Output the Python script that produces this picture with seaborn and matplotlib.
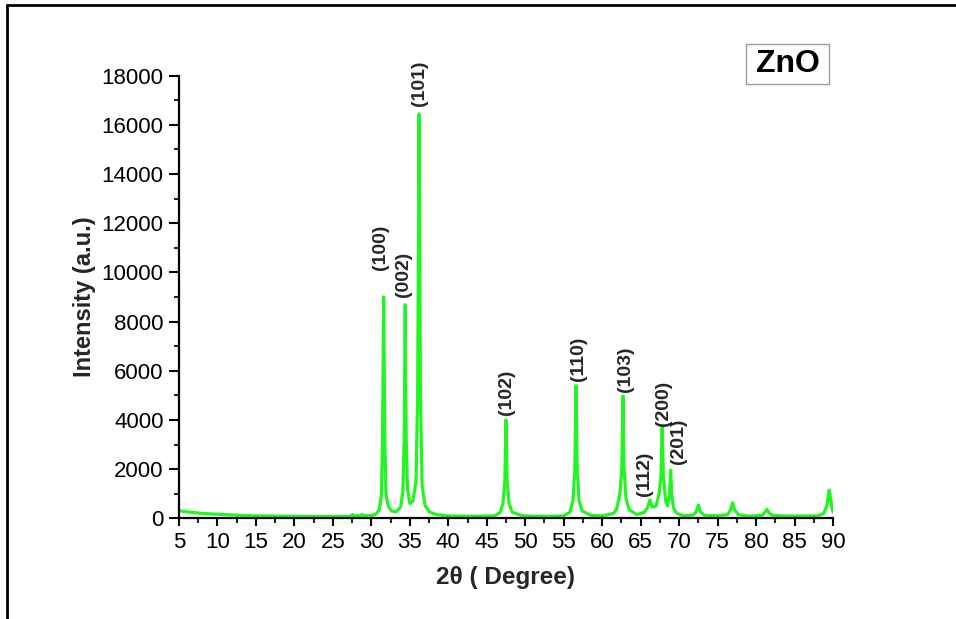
import matplotlib
matplotlib.use("Agg")
import matplotlib.pyplot as plt
from matplotlib.lines import Line2D
from matplotlib.patches import Rectangle
import seaborn as sns
import pandas as pd

# ---- data ----
two_theta = [5.0, 5.4, 6, 7, 8, 9, 10, 11, 12, 13, 14, 15, 17, 19, 21, 23, 25, 27,
             27.4, 27.6, 27.8, 28.6, 28.8, 29.0, 30.0, 30.6, 31.0, 31.3, 31.45, 31.6,
             31.75, 31.9, 32.2, 32.6, 33.2, 33.8, 34.1, 34.27, 34.4, 34.53, 34.7, 35.0,
             35.4, 35.8, 36.02, 36.2, 36.38, 36.6, 37.0, 37.6, 38.5, 40, 42, 44, 46,
             46.7, 47.1, 47.35, 47.5, 47.65, 47.9, 48.3, 49.5, 51, 53, 55, 55.8, 56.2,
             56.45, 56.6, 56.75, 57.0, 57.4, 58.5, 60, 61.5, 61.9, 62.3, 62.55, 62.7,
             62.85, 63.1, 63.5, 64.5, 65.5, 65.9, 66.2, 66.5, 67.0, 67.4, 67.65, 67.8,
             67.95, 68.25, 68.5, 68.75, 68.9, 69.05, 69.3, 69.7, 70.5, 71.8, 72.2, 72.5,
             72.8, 73.3, 75, 76.3, 76.7, 76.95, 77.2, 77.7, 79, 80.8, 81.15, 81.4, 81.65,
             82.1, 84, 86, 88, 88.8, 89.2, 89.5, 89.7, 89.85, 90.0]
intensity = [320, 290, 260, 230, 200, 180, 165, 150, 135, 120, 110, 100, 90, 85, 80, 75, 72, 75,
             110, 150, 100, 110, 160, 110, 110, 170, 330, 900, 3000, 9000,
             3000, 1000, 500, 300, 260, 450, 1100, 3200, 8680, 3200, 1200, 600,
             700, 1500, 5000, 16440, 5000, 1300, 500, 250, 150, 100, 85, 85, 100,
             220, 600, 1500, 4000, 1500, 600, 250, 110, 85, 80, 100, 250, 700,
             2000, 5390, 2000, 700, 300, 120, 100, 200, 400, 1000, 2000, 4970,
             2000, 800, 350, 150, 250, 450, 745, 450, 500, 1000, 1700, 3710,
             1700, 700, 500, 900, 1960, 900, 400, 200, 110, 130, 250, 540,
             250, 120, 100, 150, 350, 635, 350, 150, 90, 120, 250, 365, 250,
             120, 90, 90, 100, 200, 500, 1150, 800, 450, 250]

hkl_labels = ["(100)", "(002)", "(101)", "(102)", "(110)", "(103)", "(112)", "(200)", "(201)"]
hkl_pos = [31.6, 34.4, 36.2, 47.5, 56.6, 62.7, 66.2, 67.8, 68.9]
hkl_height = [9000, 8680, 16440, 4000, 5390, 4970, 745, 3710, 1960]
# label offsets in pixels (dx, dy) relative to peak top
hkl_dx = [-3, -2, 0, 1, 2, 3, -5, 1, 8]
hkl_dy = [27, 8, 8, 5, 5, 4, 4, 1, 6]

x_ticks = list(range(5, 91, 5))
y_ticks = list(range(0, 18001, 2000))

df = pd.DataFrame({"two_theta": two_theta, "intensity": intensity})

sns.set_style("ticks")
plt.rcParams["font.family"] = ["Liberation Sans", "DejaVu Sans"]

W, H = 956, 619
fig = plt.figure(figsize=(W / 100, H / 100), dpi=100)
ax = fig.add_axes([179 / W, 1 - 518.3 / H, (833 - 179) / W, (518.3 - 75.7) / H])

sns.lineplot(data=df, x="two_theta", y="intensity", ax=ax, color="#22f522",
             linewidth=2.3, sort=False)
for l in ax.lines:
    l.set_solid_joinstyle("round")

ax.set_xlim(5, 90)
ax.set_ylim(0, 18000)
ax.set_xticks(x_ticks)
ax.set_yticks(y_ticks)
ax.set_xticks([v + 2.5 for v in x_ticks[:-1]], minor=True)
ax.set_yticks([v + 1000 for v in y_ticks[:-1]], minor=True)
ax.tick_params(axis="both", which="major", direction="out", width=1.5,
               labelsize=16, colors="black", pad=4)
ax.tick_params(axis="x", which="major", length=6)
ax.tick_params(axis="y", which="major", length=7)
ax.tick_params(axis="both", which="minor", direction="out", width=1.5, length=3.5)
for s in ["top", "right"]:
    ax.spines[s].set_visible(False)
for s in ["left", "bottom"]:
    ax.spines[s].set_linewidth(1.6)
    ax.spines[s].set_color("black")

ax.set_xlabel("2θ ( Degree)", fontsize=17.5, fontweight="bold", labelpad=9)
ax.set_ylabel("Intensity (a.u.)", fontsize=17, fontweight="bold", labelpad=4)

for lab, xp, yp, dx, dy in zip(hkl_labels, hkl_pos, hkl_height, hkl_dx, hkl_dy):
    ax.annotate(lab, xy=(xp, yp), xytext=(dx * 0.72, dy * 0.72), textcoords="offset points",
                rotation=90, ha="center", va="bottom", fontsize=14, fontweight="bold")

# ZnO label box
fig.add_artist(Rectangle((746 / W, 1 - 84 / H), (829 - 746) / W, 40 / H,
                         transform=fig.transFigure, fc="white", ec="#999999", lw=1.0))
fig.text(788 / W, 1 - 64.5 / H, "ZnO", fontsize=23, fontweight="bold", ha="center",
         va="center", color="black")

# outer frame lines (top and left)
fig.add_artist(Line2D([7 / W, 1], [1 - 5 / H, 1 - 5 / H], transform=fig.transFigure,
                      color="black", lw=2.0))
fig.add_artist(Line2D([7 / W, 7 / W], [0, 1 - 5 / H], transform=fig.transFigure,
                      color="black", lw=2.0))

fig.savefig("out.png", dpi=100)
